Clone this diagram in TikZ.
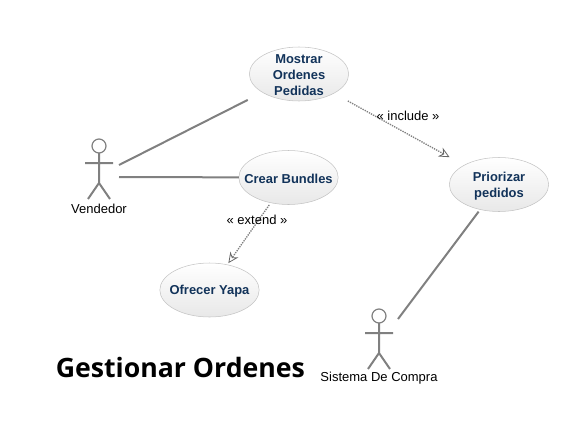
\documentclass[tikz,border=0pt]{standalone}
\usepackage{fontspec}
\setmainfont{Liberation Sans}
\newfontfamily\titlefont{Open Sans}
\usetikzlibrary{arrows.meta,shapes.geometric}
\definecolor{casetext}{HTML}{12335A}
\definecolor{caseline}{HTML}{C4C4C4}
\definecolor{linkgray}{HTML}{808080}
\tikzset{
	usecase/.style={draw=caseline, ellipse, top color=white, bottom color=black!9, minimum width=74.5pt, minimum height=40.5pt, inner sep=0pt, outer sep=0pt},
	casename/.style={align=center, text=casetext, inner sep=0pt, yshift=-1.2pt, font=\fontsize{9.7}{12}\selectfont\bfseries},
	assoc/.style={draw=linkgray, line width=1.5pt},
	dep/.style={draw=linkgray, line width=1pt, dash pattern=on 1pt off 0.8pt, -{Stealth[open, length=8pt, width=7.5pt, line width=0.6pt, color=black!60]}},
	caption/.style={font=\fontsize{9.75}{11}\selectfont, inner sep=0pt},
	actor/.pic={
		\draw[draw=linkgray, line width=0.9pt] (0,-24) circle (7);
		\draw[draw=linkgray, line width=1.5pt] (0,-17) -- (0,13) (-14,-7) -- (14,-7) (-11,29) -- (0,13) -- (11,29);
	}
}
\begin{document}
\begin{tikzpicture}[x=0.75pt, y=-0.75pt]
				\useasboundingbox (0,0) rectangle (585,425);
				% Cases
				\node[usecase, label={[casename]center:Mostrar\\Ordenes\\Pedidas}] (Mostrar) at (299,74) {} ;
				\node[usecase, label={[casename]center:Crear Bundles}] (Crear) at (288.5,177.5) {} ;
				\node[usecase, label={[casename]center:Priorizar\\pedidos}] (Priorizar) at (499,184.5) {} ;
				\node[usecase, label={[casename]center:Ofrecer Yapa}] (Ofrecer) at (209.5,290) {} ;
				
				% Actors
				\pic at (99,170) {actor} ;
				\pic at (379,340) {actor} ;
				\node[caption] (Vendedor) at (99,208.5) {Vendedor} ;
				\node[caption] (Sistema) at (379,378.5) {Sistema De Compra} ;
				\coordinate (VendedorUp) at (119,165) ;
				\coordinate (VendedorRight) at (119,177) ;
				\coordinate (SistemaUp) at (398,319) ;
				
				% Links
				\draw[assoc, shorten >=12.5pt] (VendedorUp) -- (Mostrar) ;
				\draw[assoc] (VendedorRight) -- (Crear) ;
				\draw[assoc, shorten >=2pt] (SistemaUp) -- (Priorizar) ;
				\draw[dep, shorten <=12pt, shorten >=12.5pt] (Mostrar) -- (Priorizar) ;
				\draw[dep, shorten <=2pt, shorten >=1.5pt] (Crear) -- (Ofrecer) ;
				\node[caption] (Include) at (408,116) {« include »} ;
				\node[caption] (Extend) at (257,220) {« extend »} ;
				
				% Title
				\node[anchor=west, inner sep=0pt, font=\titlefont\fontsize{20}{24}\selectfont\bfseries] (Title) at (55.5,367) {Gestionar Ordenes} ;
			\end{tikzpicture}
\end{document}
